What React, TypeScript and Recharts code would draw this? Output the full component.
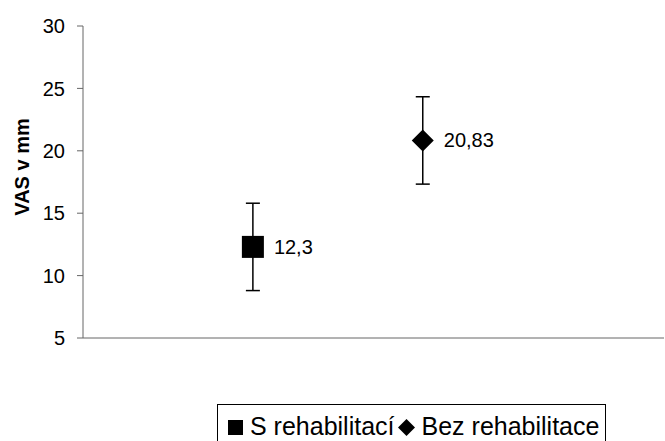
import React from "react";
import { ScatterChart, Scatter, XAxis, YAxis, ErrorBar } from "recharts";

const seriesNames = ["S rehabilitací", "Bez rehabilitace"];
const positions = [1, 2];
const means = [12.3, 20.83];
const errors = [3.5, 3.5];
const yTicks = [5, 10, 15, 20, 25, 30];

const FONT = "'Liberation Sans', Arial, sans-serif";

const fmt = (v: number) => String(v).replace(".", ",");

const makeShape = (kind: "square" | "diamond") => (props: any) => {
  const { cx, cy, payload } = props;
  const h = 11;
  return (
    <g>
      {kind === "square" ? (
        <rect x={cx - h} y={cy - h} width={2 * h} height={2 * h} fill="#000" />
      ) : (
        <polygon
          points={`${cx},${cy - h} ${cx + h},${cy} ${cx},${cy + h} ${cx - h},${cy}`}
          fill="#000"
        />
      )}
      <text x={cx + 21} y={cy + 7} fontSize={20} fontFamily={FONT} fill="#000">
        {fmt(payload.y)}
      </text>
    </g>
  );
};

const LegendBox = () => (
  <div
    style={{
      position: "absolute",
      left: 217,
      top: 404,
      width: 389,
      height: 50,
      border: "1px solid #000",
      fontFamily: FONT,
      fontSize: 25,
      lineHeight: "29px",
      display: "flex",
      alignItems: "flex-start",
      paddingTop: 7,
      paddingLeft: 9,
      boxSizing: "border-box",
      whiteSpace: "nowrap",
    }}
  >
    {seriesNames.map((name, i) => (
      <span key={name} style={{ display: "flex", alignItems: "center", marginRight: 3 }}>
        <svg width={17} height={17} style={{ marginRight: i === 0 ? 6 : 7, marginTop: 2 }}>
          {i === 0 ? (
            <rect x={1} y={1} width={15} height={15} fill="#000" />
          ) : (
            <polygon points="8.5,0 17,8.5 8.5,17 0,8.5" fill="#000" />
          )}
        </svg>
        {name}
      </span>
    ))}
  </div>
);

export default function App() {
  const data = seriesNames.map((_, i) => [
    { x: positions[i], y: means[i], err: errors[i] },
  ]);
  return (
    <div style={{ position: "absolute", left: 0, top: 0, width: 665, height: 441, overflow: "hidden", background: "#fff" }}>
      <ScatterChart width={665} height={441} margin={{ top: 26, right: 1, bottom: 73, left: 0 }}>
        <XAxis
          type="number"
          dataKey="x"
          domain={[0, 3.42]}
          height={30}
          tick={false}
          tickLine={false}
          axisLine={{ stroke: "#666", strokeWidth: 1 }}
        />
        <YAxis
          type="number"
          dataKey="y"
          domain={[5, 30]}
          ticks={yTicks}
          width={83}
          tickSize={6}
          tickMargin={12}
          tick={{ fill: "#000", fontSize: 20, fontFamily: FONT }}
          tickLine={{ stroke: "#666" }}
          axisLine={{ stroke: "#666", strokeWidth: 1 }}
          label={{
            content: (p: any) => {
              const vb = p.viewBox;
              const cx = 22;
              const cy = vb.y + vb.height / 2 - 15;
              return (
                <text
                  x={cx}
                  y={cy}
                  transform={`rotate(-90, ${cx}, ${cy})`}
                  textAnchor="middle"
                  dominantBaseline="central"
                  fontSize={20}
                  fontWeight="bold"
                  fontFamily={FONT}
                  fill="#000"
                >
                  VAS v mm
                </text>
              );
            },
          }}
        />
        {seriesNames.map((name, i) => (
          <Scatter
            key={name}
            name={name}
            data={data[i]}
            isAnimationActive={false}
            shape={makeShape(i === 0 ? "square" : "diamond")}
          >
            <ErrorBar dataKey="err" direction="y" width={7} stroke="#000" strokeWidth={1.5} />
          </Scatter>
        ))}
      </ScatterChart>
      <LegendBox />
    </div>
  );
}
